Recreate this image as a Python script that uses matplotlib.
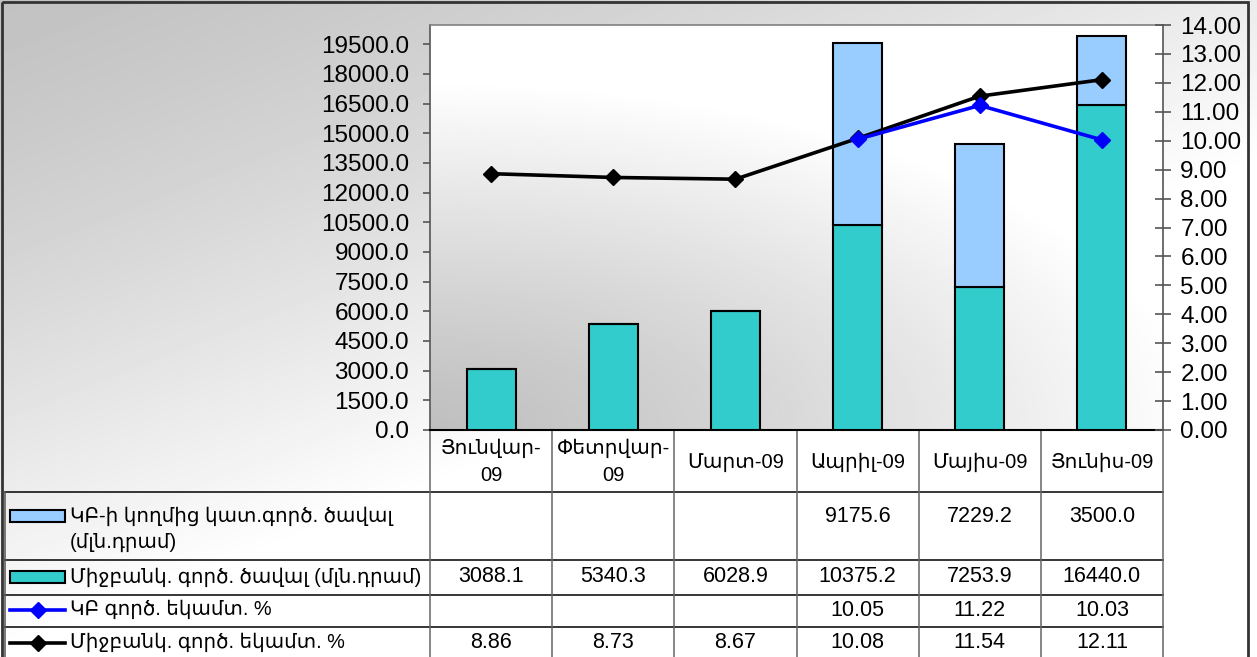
import numpy as np
import matplotlib
matplotlib.use("Agg")
import matplotlib.pyplot as plt
from matplotlib.patches import Rectangle
from matplotlib.lines import Line2D
from matplotlib.ticker import FormatStrFormatter, MultipleLocator

# ---------------- data ----------------
categories = ["Յունվար-09", "Փետրվար-09", "Մարտ-09", "Ապրիլ-09", "Մայիս-09", "Յունիս-09"]
cb_volume = [np.nan, np.nan, np.nan, 9175.6, 7229.2, 3500.0]
ib_volume = [3088.1, 5340.3, 6028.9, 10375.2, 7253.9, 16440.0]
cb_rate = [np.nan, np.nan, np.nan, 10.05, 11.22, 10.03]
ib_rate = [8.86, 8.73, 8.67, 10.08, 11.54, 12.11]
series_labels = [
    "ԿԲ-ի կողմից կատ.գործ. ծավալ\n(մլն.դրամ)",
    "Միջբանկ. գործ. ծավալ (մլն.դրամ)",
    "ԿԲ գործ. եկամտ. %",
    "Միջբանկ. գործ. եկամտ. %",
]

C_CB = "#99CCFF"
C_IB = "#33CCCC"
C_CBL = "#0000FF"
C_IBL = "#000000"
FONT = ["Liberation Sans", "DejaVu Sans"]

W, H = 1257, 657
fig = plt.figure(figsize=(W / 100, H / 100), dpi=100)

# background axes in pixel coordinates
bg = fig.add_axes([0, 0, 1, 1], zorder=-10)
bg.set_xlim(0, W)
bg.set_ylim(H, 0)
bg.axis("off")
yy, xx = np.mgrid[0:H, 0:W]
t = np.clip(0.75 * xx / W + 1.0 * yy / H, 0, 1) ** 1.3
shade = 0.76 + 0.24 * t
bg.imshow(shade, extent=[0, W, H, 0], cmap="gray", vmin=0, vmax=1, aspect="auto",
          interpolation="bilinear")

def fx(x):
    return x / W

def fy(y):
    return 1 - y / H

PL, PR, PT, PB = 430, 1163, 25, 430
ax = fig.add_axes([fx(PL), fy(PB), (PR - PL) / W, (PB - PT) / H])
ax.patch.set_visible(False)
# plot-area gradient
gy, gx = np.mgrid[0:1:200j, 0:1:300j]
gt = np.clip(np.sqrt((gx * 0.9) ** 2 + (gy * 1.1) ** 2) / 0.95, 0, 1) ** 1.2
ax.imshow(0.75 + 0.25 * gt, extent=[0, 1, 1, 0], transform=ax.transAxes, cmap="gray",
          vmin=0, vmax=1, aspect="auto", zorder=0, interpolation="bilinear")

x = np.arange(len(categories))
ax.bar(x, ib_volume, width=0.4, color=C_IB, edgecolor="black", linewidth=1.5, zorder=3)
ax.bar(x, np.nan_to_num(cb_volume), bottom=ib_volume, width=0.4, color=C_CB,
       edgecolor="black", linewidth=1.5, zorder=3)
ax.set_xlim(-0.5, len(categories) - 0.5)
ax.set_ylim(0, 20475)
ax.yaxis.set_major_locator(MultipleLocator(1500))
ax.yaxis.set_major_formatter(FormatStrFormatter("%.1f"))
ax.set_xticks([])
ax.tick_params(axis="y", direction="out", length=5, width=1.2, color="#555555", pad=10,
               labelsize=17.5)
for lab in ax.get_yticklabels():
    lab.set_family(FONT)
ax.spines["left"].set_color("#555555")
ax.spines["left"].set_linewidth(1.2)
ax.spines["top"].set_color("#808080")
ax.spines["top"].set_linewidth(1.2)
ax.spines["right"].set_visible(False)
ax.spines["bottom"].set_color("black")
ax.spines["bottom"].set_linewidth(1.5)

ax2 = ax.twinx()
ax2.plot(x, ib_rate, color=C_IBL, lw=2.6, marker="D", ms=8, zorder=4)
ax2.plot(x, cb_rate, color=C_CBL, lw=2.6, marker="D", ms=8, zorder=5)
ax2.set_ylim(0, 14)
ax2.yaxis.set_major_locator(MultipleLocator(1))
ax2.yaxis.set_major_formatter(FormatStrFormatter("%.2f"))
ax2.tick_params(axis="y", direction="inout", length=11, width=1.2, color="#555555", pad=7,
                labelsize=17.5)
for lab in ax2.get_yticklabels():
    lab.set_family(FONT)
for s in ["left", "top", "bottom"]:
    ax2.spines[s].set_visible(False)
ax2.spines["right"].set_color("#555555")
ax2.spines["right"].set_linewidth(1.2)

# ---------------- data table ----------------
col_edges = np.linspace(PL, PR, len(categories) + 1)
row_edges = [430, 492, 560, 595, 627, 662]
row_text_y = [516, 577, 610, 643]

# horizontal lines
for yv in row_edges[1:-1]:
    bg.plot([5, PR], [yv, yv], color="black", lw=1.1, zorder=2)
# vertical lines
for xv in col_edges:
    bg.plot([xv, xv], [430, H], color="#666666", lw=1.1, zorder=2)
bg.plot([5, 5], [492, H], color="#555555", lw=1.1, zorder=2)

# header labels
for i, c in enumerate(categories):
    lab = c.replace("-", "-\n") if len(c) > 9 else c
    bg.text((col_edges[i] + col_edges[i + 1]) / 2, 462, lab, ha="center", va="center",
            fontsize=14.5, family=FONT, linespacing=1.55, zorder=3)

def fmt(v, d):
    return "" if np.isnan(v) else f"{v:.{d}f}"

rows = [(cb_volume, 1), (ib_volume, 1), (cb_rate, 2), (ib_rate, 2)]
for r, (vals, d) in enumerate(rows):
    for i, v in enumerate(vals):
        bg.text((col_edges[i] + col_edges[i + 1]) / 2, row_text_y[r], fmt(v, d),
                ha="center", va="center", fontsize=15.5, family=FONT, zorder=3)

# legend keys + labels
for r, lab in enumerate(series_labels):
    yk = row_text_y[r]
    if r < 2:
        color = C_CB if r == 0 else C_IB
        bg.add_patch(Rectangle((10, yk - 6), 55, 12, facecolor=color, edgecolor="black",
                               lw=1.5, zorder=3))
    else:
        color = C_CBL if r == 2 else C_IBL
        bg.add_line(Line2D([10, 65], [yk, yk], color=color, lw=2.6, zorder=3))
        bg.add_line(Line2D([37.5], [yk], color=color, marker="D", ms=8, zorder=4))
    bg.text(70, yk - 10, lab, ha="left", va="top", fontsize=14.3, family=FONT,
            linespacing=1.5, zorder=3)

# outer border
bg.add_patch(Rectangle((2, 2), 1246, H + 5, facecolor="none", edgecolor="#333333",
                       lw=2, zorder=5))

fig.savefig("out.png", dpi=100)
